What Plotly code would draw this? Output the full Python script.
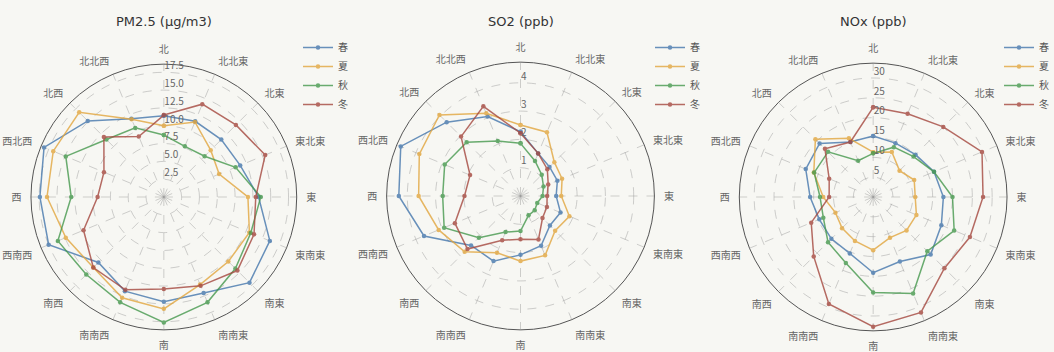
import plotly.graph_objects as go

# 16 wind directions, clockwise from north
directions = ["北", "北北東", "北東", "東北東", "東", "東南東", "南東", "南南東",
              "南", "南南西", "南西", "西南西", "西", "西北西", "北西", "北北西"]
seasons = ["春", "夏", "秋", "冬"]

# Mean concentration by wind direction and season
pm25_spring = [11.4, 11.5, 11.4, 11.6, 13.3, 16.1, 17.0, 14.6, 14.7, 14.3, 13.0, 17.5, 17.4, 18.2, 15.1, 11.9]
pm25_summer = [10.0, 11.4, 9.3, 8.4, 11.8, 13.0, 12.8, 13.3, 15.7, 15.3, 14.0, 14.9, 16.4, 16.8, 16.8, 11.8]
pm25_autumn = [8.7, 7.7, 8.1, 10.9, 13.6, 13.2, 14.2, 16.0, 17.6, 16.0, 15.4, 16.1, 13.0, 14.9, 11.4, 10.5]
pm25_winter = [11.5, 14.1, 14.3, 15.4, 12.9, 13.7, 14.6, 13.5, 12.9, 14.1, 14.0, 12.2, 9.3, 9.1, 11.9, 9.2]

so2_spring = [2.27, 1.63, 1.45, 1.41, 1.26, 1.53, 1.47, 1.90, 2.08, 2.49, 2.47, 3.69, 4.30, 4.58, 3.69, 3.04]
so2_summer = [2.51, 2.44, 1.69, 1.59, 1.44, 1.87, 1.73, 2.27, 2.30, 2.17, 2.79, 3.13, 3.60, 3.87, 4.05, 3.16]
so2_autumn = [1.86, 1.34, 1.06, 0.88, 0.78, 0.64, 0.71, 0.74, 1.24, 1.38, 2.08, 2.92, 2.75, 2.90, 2.69, 2.10]
so2_winter = [2.22, 1.63, 1.34, 1.06, 0.94, 1.01, 1.10, 1.66, 1.53, 1.69, 2.65, 2.51, 1.98, 1.93, 2.97, 3.43]

nox_spring = [15.4, 14.7, 15.1, 16.6, 17.7, 18.6, 20.5, 17.6, 19.1, 15.4, 14.9, 14.7, 15.9, 18.4, 19.1, 15.0]
nox_summer = [11.3, 12.3, 9.4, 11.2, 10.6, 11.8, 11.9, 11.1, 13.4, 12.0, 11.1, 10.3, 12.6, 16.2, 20.6, 16.0]
nox_autumn = [11.0, 13.6, 14.4, 16.6, 20.0, 22.1, 19.3, 26.3, 24.1, 18.0, 16.1, 13.6, 13.4, 16.1, 16.1, 9.9]
nox_winter = [22.6, 22.7, 25.0, 29.7, 27.7, 26.4, 25.4, 31.5, 32.7, 29.2, 21.2, 16.9, 11.1, 12.0, 17.2, 15.0]

titles = ["PM2.5 (μg/m3)", "SO2 (ppb)", "NOx (ppb)"]
radial_max = [18.65, 4.73, 33.75]
radial_ticks = [
    [2.5, 5.0, 7.5, 10.0, 12.5, 15.0, 17.5],
    [1, 2, 3, 4],
    [5, 10, 15, 20, 25, 30],
]
radial_ticktext = [
    ["2.5", "5.0", "7.5", "10.0", "12.5", "15.0", "17.5"],
    ["1", "2", "3", "4"],
    ["5", "10", "15", "20", "25", "30"],
]

panels = [
    [pm25_spring, pm25_summer, pm25_autumn, pm25_winter],
    [so2_spring, so2_summer, so2_autumn, so2_winter],
    [nox_spring, nox_summer, nox_autumn, nox_winter],
]

colors = ["#4577ad", "#e2a63e", "#46994e", "#a5483f"]

W, H = 1054, 352
centers = [(164, 197, 133), (521, 196, 134), (874, 197, 134)]
legend_x = [298, 650, 1000]

fig = go.Figure()

polar_names = ["polar", "polar2", "polar3"]
legend_names = ["legend", "legend2", "legend3"]

for p, series in enumerate(panels):
    for s, vals in enumerate(series):
        fig.add_trace(go.Scatterpolar(
            r=vals + vals[:1],
            theta=directions + directions[:1],
            mode="lines+markers",
            name=seasons[s],
            line=dict(color=colors[s], width=1.5),
            marker=dict(color=colors[s], size=4.5),
            opacity=0.8,
            subplot=polar_names[p],
            legend=legend_names[p],
        ))

grid_col = "rgba(150,150,150,0.45)"
layout = dict(
    width=W, height=H,
    margin=dict(l=0, r=0, t=0, b=0),
    paper_bgcolor="#f7f7f3",
    font=dict(family="Noto Sans CJK JP, DejaVu Sans", color="#555555"),
    showlegend=True,
)

annotations = []
for p in range(3):
    cx, cy, R = centers[p]
    layout[polar_names[p]] = dict(
        domain=dict(x=[(cx - R) / W, (cx + R) / W],
                    y=[(H - cy - R) / H, (H - cy + R) / H]),
        bgcolor="rgba(0,0,0,0)",
        angularaxis=dict(
            direction="clockwise", rotation=90,
            categoryorder="array", categoryarray=directions,
            showline=True, linecolor="#555555", linewidth=1,
            gridcolor=grid_col, griddash="dash",
            ticks="outside", ticklen=7, tickcolor="rgba(0,0,0,0)",
            tickfont=dict(size=10, color="#666666"),
        ),
        radialaxis=dict(
            range=[0, radial_max[p]],
            tickmode="array", tickvals=radial_ticks[p],
            # labels sit just above their ring
            ticktext=[t + "<br> " for t in radial_ticktext[p]],
            angle=90, side="clockwise", tickangle=90,
            showline=False, ticks="",
            gridcolor=grid_col, griddash="dash",
            tickfont=dict(size=10, color="#666666"),
        ),
    )
    layout[legend_names[p]] = dict(
        x=legend_x[p] / W, y=1 - 33 / H, xanchor="left", yanchor="top",
        bgcolor="rgba(0,0,0,0)", font=dict(size=10, color="#555555"),
        itemwidth=30,
    )
    annotations.append(dict(
        x=cx / W, y=1 - 21 / H, xref="paper", yref="paper",
        text=titles[p], showarrow=False,
        font=dict(size=13, color="#333333", family="DejaVu Sans"),
        xanchor="center", yanchor="middle",
    ))

layout["annotations"] = annotations
fig.update_layout(**layout)
fig.write_html("out.html")
